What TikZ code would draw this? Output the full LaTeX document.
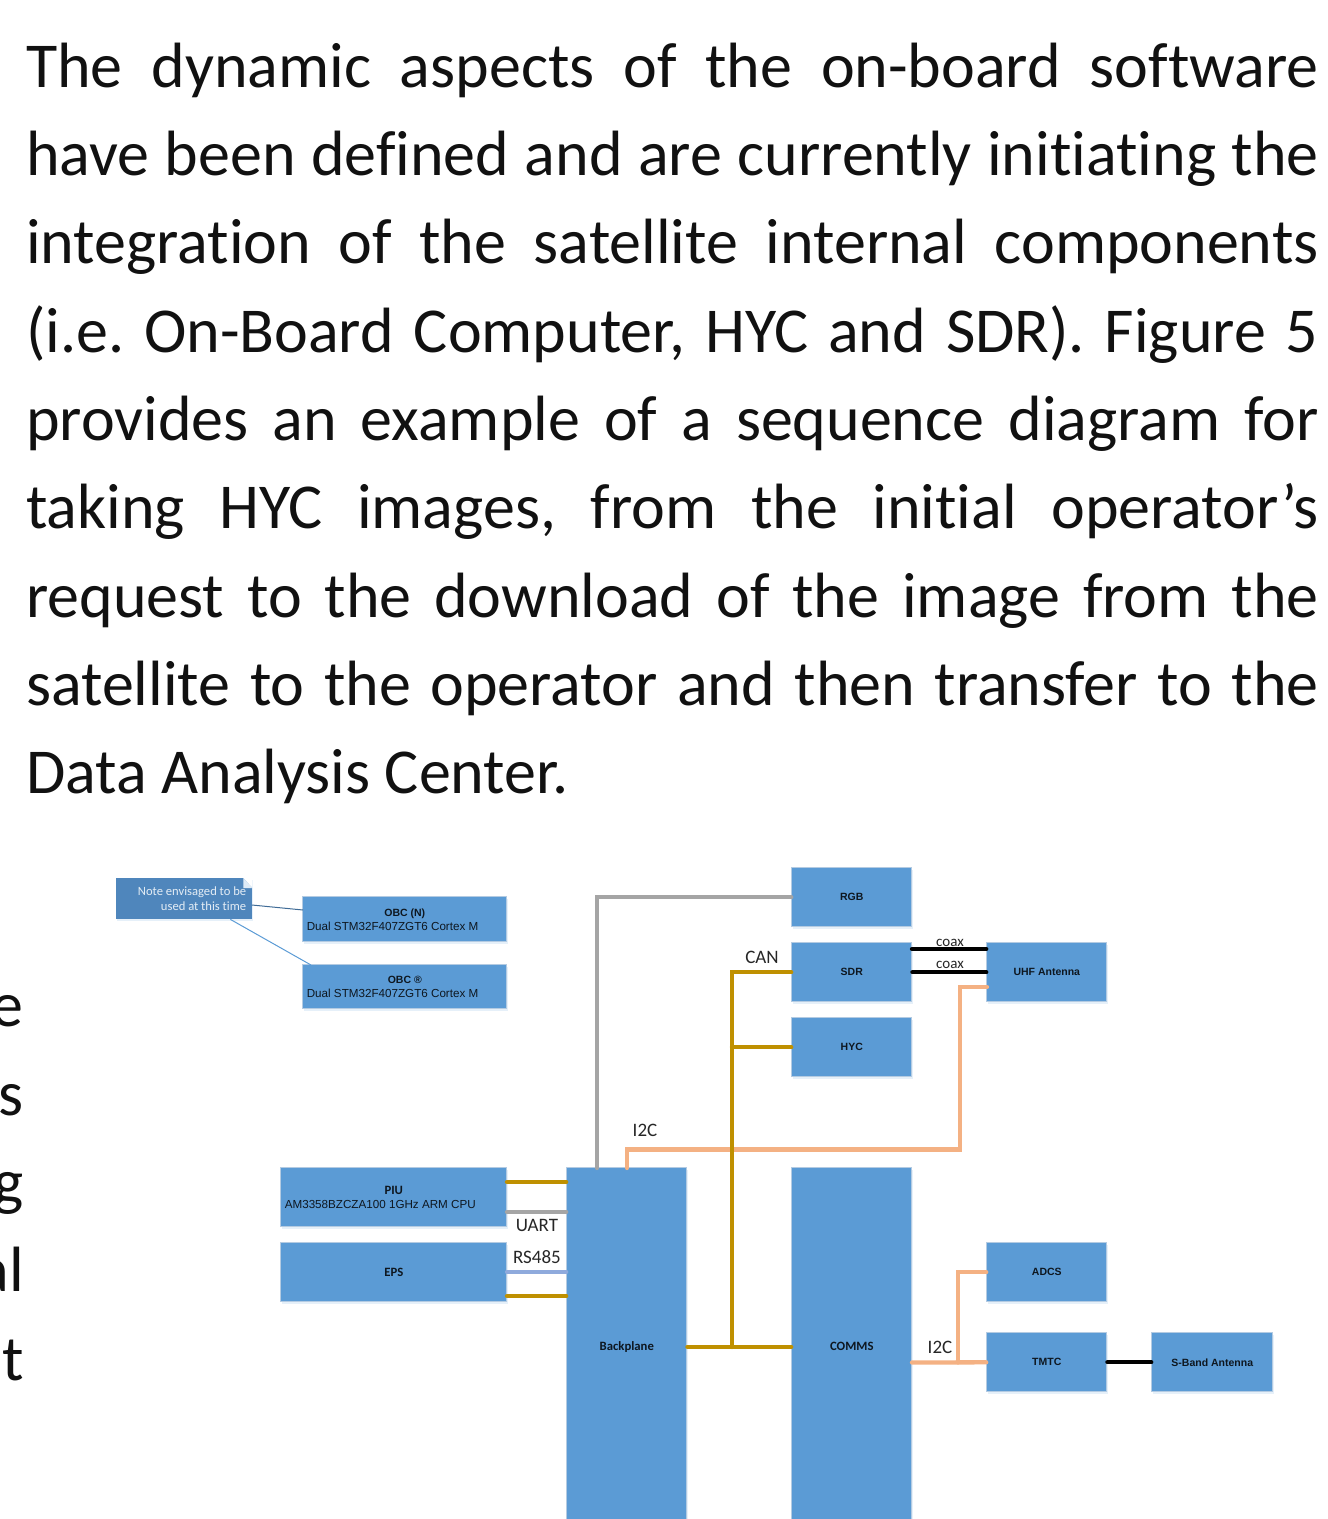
\documentclass[tikz,border=0pt]{standalone}
\usepackage{fontspec}
\setmainfont[Ligatures=NoCommon]{Carlito}
\newfontfamily\arialf{Liberation Sans}
\usetikzlibrary{shadows}
\frenchspacing
\definecolor{boxblue}{HTML}{5B9BD5}
\definecolor{boxedge}{HTML}{B4CBE2}
\definecolor{noteblue}{HTML}{4F86BC}
\definecolor{wgold}{HTML}{BF9000}
\definecolor{wgray}{HTML}{A5A5A5}
\definecolor{worange}{HTML}{F4B183}
\definecolor{wlilac}{HTML}{8FAADC}
\definecolor{bodyink}{HTML}{111111}
\newlength{\lw}\setlength{\lw}{1292.5pt}
\newcommand{\jline}[1]{\makebox[\lw][s]{#1}}
\newcommand{\reg}{\mdseries\fontsize{11.65pt}{13.5pt}\selectfont}
\tikzset{
 bx/.style={draw=boxedge,line width=1.2pt,fill=boxblue,inner sep=0pt,minimum width=120pt,minimum height=59pt,anchor=north west,
   xshift=-0.8pt,yshift=0.8pt,
   text=black!85!boxblue,font=\arialf\fontsize{10.5pt}{13.5pt}\selectfont\bfseries,align=center,
   drop shadow={shadow xshift=1pt,shadow yshift=-2pt,fill=boxblue!15,opacity=1}},
 cb/.style={font=\fontsize{12.7pt}{14pt}\selectfont\bfseries},
 wire/.style={line width=4.3pt,line cap=round,line join=miter},
 wg/.style={wire,draw=wgold}, wy/.style={wire,draw=wgray}, wo/.style={wire,draw=worange},
 wl/.style={wire,draw=wlilac}, wk/.style={wire,draw=black},
 body/.style={inner sep=0pt,anchor=base west,text=bodyink,font=\fontsize{64pt}{70pt}\selectfont},
 frag/.style={inner sep=0pt,anchor=base east,text=bodyink,font=\fontsize{64pt}{70pt}\selectfont},
 lab/.style={inner sep=0pt,text=black!85,font=\fontsize{19pt}{21pt}\selectfont},
 labs/.style={inner sep=0pt,text=black!85,font=\fontsize{15pt}{17pt}\selectfont},
}
\begin{document}
\begin{tikzpicture}[x=1pt,y=-1pt]
\useasboundingbox (0,0) rectangle (1328,1519);
\clip (0,0) rectangle (1328,1519);
% body text
\node[body] (l1) at (26,87) {\jline{The dynamic aspects of the on-board software}};
\node[body] (l2) at (26,175) {\jline{have been defined and are currently initiating the}};
\node[body] (l3) at (26,263) {\jline{integration of the satellite internal components}};
\node[body] (l4) at (26,352) {\jline{(i.e. On-Board Computer, HYC and SDR). Figure 5}};
\node[body] (l5) at (26,440) {\jline{provides an example of a sequence diagram for}};
\node[body] (l6) at (26,528) {\jline{taking HYC images, from the initial operator’s}};
\node[body] (l7) at (26,617) {\jline{request to the download of the image from the}};
\node[body] (l8) at (26,705) {\jline{satellite to the operator and then transfer to the}};
\node[body] (l9) at (26,793) {Data Analysis Center.};
\node[frag] (f1) at (24,1026) {e};
\node[frag] (f2) at (24,1115) {s};
\node[frag] (f3) at (24,1203) {g};
\node[frag] (f4) at (24,1291) {al};
\node[frag] (f5) at (24,1380) {t};
% boxes
\node[bx,minimum width=204pt,minimum height=45pt] (obcn) at (303,897) {\raisebox{1.5pt}{\parbox{196pt}{\makebox[196pt][c]{OBC (N)}\\[0.5pt]{\reg Dual STM32F407ZGT6 Cortex M}}}};
\node[bx,minimum width=204pt,minimum height=44pt] (obcr) at (303,965) {\raisebox{1.5pt}{\parbox{196pt}{\makebox[196pt][c]{OBC ®}\\[0.5pt]{\reg Dual STM32F407ZGT6 Cortex M}}}};
\node[bx] (rgb) at (792,868) {RGB};
\node[bx] (sdr) at (792,943) {SDR};
\node[bx] (hyc) at (792,1018) {HYC};
\node[bx] (uhf) at (987,943) {UHF Antenna};
\node[bx,minimum width=226pt] (piu) at (281,1168) {\parbox{218pt}{\makebox[218pt][c]{\fontspec{Carlito}\fontsize{12.7pt}{13pt}\selectfont\bfseries PIU}\\[0.5pt]{\reg AM3358BZCZA100 1GHz ARM CPU}}};
\node[bx,minimum width=226pt,cb] (eps) at (281,1243) {EPS};
\node[bx,minimum height=358pt,cb] (bp) at (567,1168) {Backplane};
\node[bx,minimum height=358pt,cb] (comms) at (792,1168) {COMMS};
\node[bx] (adcs) at (987,1243) {ADCS};
\node[bx] (tmtc) at (987,1333) {TMTC};
\node[bx,minimum width=121pt] (sband) at (1152,1333) {S-Band Antenna};
% note
\node[anchor=north west,fill=noteblue,inner sep=0pt,minimum width=136pt,minimum height=41pt,
  text=white!85!noteblue,font=\fontsize{12.6pt}{15pt}\selectfont,align=right,
  drop shadow={shadow xshift=1pt,shadow yshift=-2pt,fill=boxblue!15,opacity=1}] (note) at (116,878)
  {\parbox{124pt}{\raggedleft Note envisaged to be\\ used at this time}};
\coordinate (fa) at ([xshift=-9pt]note.north east);
\coordinate (fb) at ([yshift=-10pt]note.north east);
\fill[white] (fa) -- (note.north east) -- (fb) -- cycle;
\fill[white!80!boxblue] (fa) -- (fb) -- (fa |- fb) -- cycle;
\coordinate (nb) at ([xshift=-22pt]note.south east);
\coordinate (ne) at (252,905);
\coordinate (on) at (303,910);
\coordinate (or) at (311,965);
\draw[noteblue!80!black,line width=1pt] (ne) -- (on);
\draw[boxblue,line width=1pt] (nb) -- (or);
% wires: PIU / EPS to backplane
\draw[wg] (507,1182) coordinate (pg) -- (pg -| bp.west);
\draw[wy] (507,1212) coordinate (py) -- (py -| bp.west);
\draw[wl] (507,1272) coordinate (el) -- (el -| bp.west);
\draw[wg] (507,1296) coordinate (eg) -- (eg -| bp.west);
% gray to RGB
\coordinate (bg) at (597,1168);
\draw[wy] (bg) -- (bg |- rgb.west) -- (rgb.west);
% I2C to UHF
\coordinate (bo) at (627,1168);
\coordinate (uo) at (987,987);
\draw[wo] (bo) -- (627,1149.5) -- (960,1149.5) -- (960,987) -- (uo);
% CAN
\coordinate (cj) at (732,1347);
\draw[wg] (bp.east) -- (comms.west);
\draw[wg] (cj) -- (cj |- sdr.west) -- (sdr.west);
\draw[wg] (cj |- hyc.west) -- (hyc.west);
% coax
\coordinate (sc) at (912,949);
\draw[wk] (sc) -- (sc -| uhf.west);
\draw[wk] (sdr.east) -- (uhf.west);
% COMMS I2C
\coordinate (cc) at (912,1362.5);
\coordinate (cb) at (958,1362.5);
\draw[wo] (cc) -- (tmtc.west);
\draw[wo] (cb) -- (cb |- adcs.west) -- (adcs.west);
\draw[wk] (tmtc.east) -- (sband.west);
% labels
\node[labs] (cx1) at (950,942.5) {coax};
\node[labs] (cx2) at (950,964.5) {coax};
\node[lab] (can) at (762,957.5) {CAN};
\node[lab] (i2a) at (645,1130.5) {I2C};
\node[lab] (uart) at (537,1225.5) {UART};
\node[lab] (rs) at (537,1257.5) {RS485};
\node[lab] (i2b) at (940,1347.5) {I2C};
\end{tikzpicture}
\end{document}
